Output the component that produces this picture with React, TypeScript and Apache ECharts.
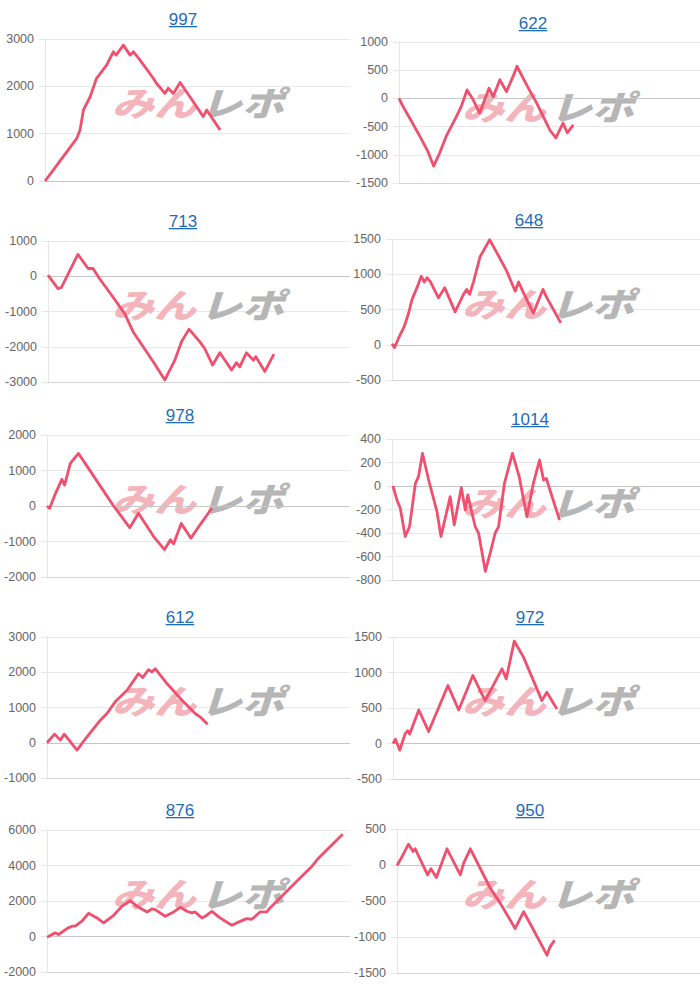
import React, { useEffect, useRef } from "react";
import * as echarts from "echarts";

// ---- data (x: share of the plot width, 0-100; y: difference in balls) ----
const titles = ["997", "622", "713", "648", "978", "1014", "612", "972", "876", "950"];

const data997 = [[0,0],[2.7,230],[10.4,900],[11.5,1080],[12.6,1500],[14.8,1780],[16.9,2170],[20.2,2450],[22.4,2730],[23.3,2660],[25.7,2870],[27.9,2660],[29.0,2730],[31.1,2560],[35.5,2170],[36.6,2060],[39.3,1850],[40.4,1960],[42.1,1850],[44.3,2080],[47.5,1780],[51.9,1360],[53.0,1500],[57.4,1080]];
const data622 = [[0,0],[1.3,-140],[4.1,-400],[6.9,-670],[9.6,-940],[11.5,-1200],[13.5,-970],[15.7,-670],[19.1,-320],[20.7,-140],[22.6,150],[24.6,-20],[26.8,-260],[28.5,-20],[29.9,180],[31.3,30],[33.5,330],[35.7,120],[37.9,390],[39.2,570],[42.4,240],[45.7,-80],[50.1,-560],[52.1,-700],[54.5,-440],[55.9,-610],[57.9,-470]];
const data713 = [[0,30],[3.3,-350],[4.4,-320],[9.9,620],[13.3,220],[14.9,220],[17.1,-70],[21.5,-590],[25.4,-1060],[28.2,-1580],[30.4,-1860],[34.8,-2420],[38.7,-2940],[42.0,-2380],[44.2,-1860],[46.7,-1500],[50.3,-1860],[51.9,-2050],[54.5,-2520],[56.9,-2170],[60.8,-2660],[62.4,-2450],[63.5,-2570],[65.7,-2170],[68.0,-2380],[68.8,-2280],[71.8,-2700],[74.8,-2210]];
const data648 = [[0,15],[0.8,-40],[2.2,100],[4.0,260],[5.4,450],[6.5,640],[8.1,810],[9.5,970],[10.5,890],[11.4,950],[12.4,900],[15.1,665],[17.1,810],[20.5,467],[23.2,715],[24.3,785],[25.2,715],[26.5,900],[28.6,1250],[31.7,1490],[34.1,1300],[37.3,1040],[40.0,760],[41.1,890],[42.7,736],[45.9,450],[49.0,785],[50.3,665],[52.4,500],[54.8,311]];
const data978 = [[0,0],[0.9,-65],[2.7,336],[4.9,750],[5.8,590],[7.7,1200],[10.4,1480],[13.7,1060],[17.6,560],[22.0,0],[27.3,-610],[30.2,-205],[35.2,-860],[38.8,-1230],[40.7,-950],[41.8,-1065],[44.3,-490],[47.5,-905],[50.5,-530],[54.4,-65]];
const data1014 = [[0.3,0],[1.6,-119],[2.7,-190],[4.3,-430],[5.7,-345],[7.6,23],[8.6,79],[9.9,277],[11.9,51],[14.6,-218],[15.9,-430],[18.9,-90],[20.2,-331],[22.5,-14],[23.8,-204],[24.6,-76],[27.0,-345],[28.1,-400],[30.3,-726],[31.9,-570],[33.5,-400],[34.6,-345],[36.5,23],[39.1,277],[41.3,79],[43.8,-261],[45.9,23],[47.9,221],[49.2,51],[50.1,65],[51.7,-68],[54.4,-289]];
const data612 = [[0,0],[2.5,245],[4.4,75],[5.7,245],[9.9,-208],[13.2,170],[17.6,640],[19.8,830],[22.5,1160],[26.4,1490],[30.2,1960],[31.6,1850],[33.5,2075],[34.6,2010],[35.7,2100],[39.6,1680],[44.5,1210],[48.9,830],[50.5,736],[53.0,528]];
const data972 = [[0,0],[0.8,61],[2.2,-94],[4.0,142],[4.8,179],[5.4,132],[8.4,472],[11.6,170],[17.9,816],[21.4,472],[26.0,958],[30.0,604],[35.5,1052],[36.9,910],[39.5,1443],[42.5,1217],[48.5,604],[50.1,722],[53.4,486]];
const data876 = [[0,-37],[0.5,0],[2.7,206],[3.8,112],[6.6,449],[8.2,580],[9.3,580],[11.5,860],[13.7,1308],[16.5,1047],[18.7,766],[22.0,1196],[24.7,1700],[27.5,2019],[29.7,1700],[33.0,1383],[34.6,1551],[35.7,1514],[39.0,1140],[41.8,1383],[44.0,1645],[46.2,1420],[47.8,1327],[48.9,1383],[51.1,1047],[52.2,1140],[54.4,1420],[57.1,1047],[61.0,636],[62.6,766],[65.9,1009],[67.6,972],[70.3,1383],[72.5,1383],[73.6,1607],[76.9,2168],[80.2,2729],[83.5,3290],[87.4,3944],[89.6,4411],[92.9,4972],[97.6,5757]];
const data950 = [[0,-7],[1.1,72],[3.8,290],[5.3,188],[6.0,225],[10.1,-137],[11.2,-53],[13.0,-174],[16.5,225],[20.9,-137],[22.0,26],[24.2,225],[26.9,0],[30.8,-323],[34.1,-533],[39.0,-881],[41.8,-649],[44.5,-858],[49.5,-1253],[50.5,-1137],[52.0,-1044]];

const seriesData = [data997, data622, data713, data648, data978, data1014, data612, data972, data876, data950];

// y-axis ranges: [min, max, interval]
const yMins = [0, -1500, -3000, -500, -2000, -800, -1000, -500, -2000, -1500];
const yMaxs = [3000, 1000, 1000, 1500, 2000, 400, 3000, 1500, 6000, 500];
const yIntervals = [1000, 500, 1000, 500, 1000, 200, 1000, 500, 2000, 500];

// ---- layout (pixels) ----
const layout = [
  { left: 45, right: 350, top: 39, bottom: 181, tx: 183, ty: 19 },
  { left: 399, right: 700, top: 42, bottom: 183, tx: 533, ty: 23 },
  { left: 48, right: 350, top: 241, bottom: 382, tx: 183, ty: 221 },
  { left: 392, right: 700, top: 239, bottom: 380, tx: 529, ty: 220 },
  { left: 47, right: 350, top: 435, bottom: 577, tx: 180, ty: 415 },
  { left: 392, right: 700, top: 439, bottom: 580, tx: 530, ty: 419 },
  { left: 47, right: 350, top: 637, bottom: 778, tx: 180, ty: 617 },
  { left: 393, right: 700, top: 637, bottom: 779, tx: 530, ty: 617 },
  { left: 47, right: 350, top: 830, bottom: 972, tx: 180, ty: 810 },
  { left: 397, right: 700, top: 829, bottom: 973, tx: 530, ty: 810 },
];

const LINE_COLOR = "#f0506e";
const TITLE_COLOR = "#1f6cb6";
const LABEL_FONT = "'Liberation Sans', Arial, sans-serif";
const WM_FONT = "'Noto Sans CJK JP', sans-serif";

export default function App() {
  const ref = useRef<HTMLDivElement>(null);

  useEffect(() => {
    if (!ref.current) return;
    const chart = echarts.init(ref.current, undefined, { renderer: "svg" });

    const grids: any[] = [];
    const xAxes: any[] = [];
    const yAxes: any[] = [];
    const series: any[] = [];
    const graphics: any[] = [];

    layout.forEach((L, i) => {
      grids.push({
        left: L.left,
        top: L.top,
        width: L.right - L.left,
        height: L.bottom - L.top,
        containLabel: false,
      });
      xAxes.push({
        type: "value",
        gridIndex: i,
        min: 0,
        max: 100,
        axisLine: { show: true, onZero: false, lineStyle: { color: "#d4d4d4", width: 1 } },
        axisTick: { show: false },
        axisLabel: { show: false },
        splitLine: { show: false },
      });
      yAxes.push({
        type: "value",
        gridIndex: i,
        min: yMins[i],
        max: yMaxs[i],
        interval: yIntervals[i],
        axisLine: { show: true, lineStyle: { color: "#e6e6e6", width: 1 } },
        axisTick: { show: true, length: 6, lineStyle: { color: "#e6e6e6" } },
        axisLabel: {
          color: "#666",
          fontSize: 12.5,
          fontFamily: LABEL_FONT,
          margin: 11,
          formatter: (v: number) => String(v),
        },
        splitLine: { show: true, lineStyle: { color: "#e8e8e8", width: 1 } },
      });
      series.push({
        type: "line",
        xAxisIndex: i,
        yAxisIndex: i,
        data: seriesData[i],
        showSymbol: false,
        symbol: "none",
        lineStyle: { color: LINE_COLOR, width: 2.8, join: "round" },
        itemStyle: { color: LINE_COLOR },
        z: 5,
        markLine: {
          silent: true,
          symbol: "none",
          label: { show: false },
          lineStyle: { color: "#c6c6c6", type: "solid", width: 1 },
          data: [{ yAxis: 0 }],
          z: 2,
        },
      });

      // title with underline
      const t = titles[i];
      const w = t.length * 9.45;
      graphics.push({
        type: "text",
        x: L.tx,
        y: L.ty,
        style: {
          text: t,
          fill: TITLE_COLOR,
          font: `17px ${LABEL_FONT}`,
          textAlign: "center",
          textVerticalAlign: "middle",
        },
        z: 10,
      });
      graphics.push({
        type: "rect",
        shape: { x: L.tx - w / 2, y: L.ty + 7, width: w, height: 1.3 },
        style: { fill: TITLE_COLOR },
        z: 10,
      });

      // watermark
      const colLeft = L.right === 700 ? 350 : 0;
      const wy = L.ty + 82;
      graphics.push({
        type: "text",
        x: colLeft + 112,
        y: wy,
        scaleY: 0.8,
        style: {
          text: "みん",
          fill: "#f3b4bb",
          fontFamily: WM_FONT,
          fontSize: 42,
          fontWeight: 900,
          fontStyle: "italic",
          textAlign: "left",
          textVerticalAlign: "middle",
        },
        z: 1,
      });
      graphics.push({
        type: "text",
        x: colLeft + 200,
        y: wy,
        scaleY: 0.8,
        style: {
          text: "レポ",
          fill: "#b6b6b6",
          fontFamily: WM_FONT,
          fontSize: 42,
          fontWeight: 900,
          fontStyle: "italic",
          textAlign: "left",
          textVerticalAlign: "middle",
        },
        z: 1,
      });
    });

    chart.setOption({
      animation: false,
      backgroundColor: "#ffffff",
      grid: grids,
      xAxis: xAxes,
      yAxis: yAxes,
      series,
      graphic: graphics,
    });

    return () => chart.dispose();
  }, []);

  return (
    <div
      ref={ref}
      style={{ position: "absolute", left: 0, top: 0, width: 700, height: 991 }}
    />
  );
}
